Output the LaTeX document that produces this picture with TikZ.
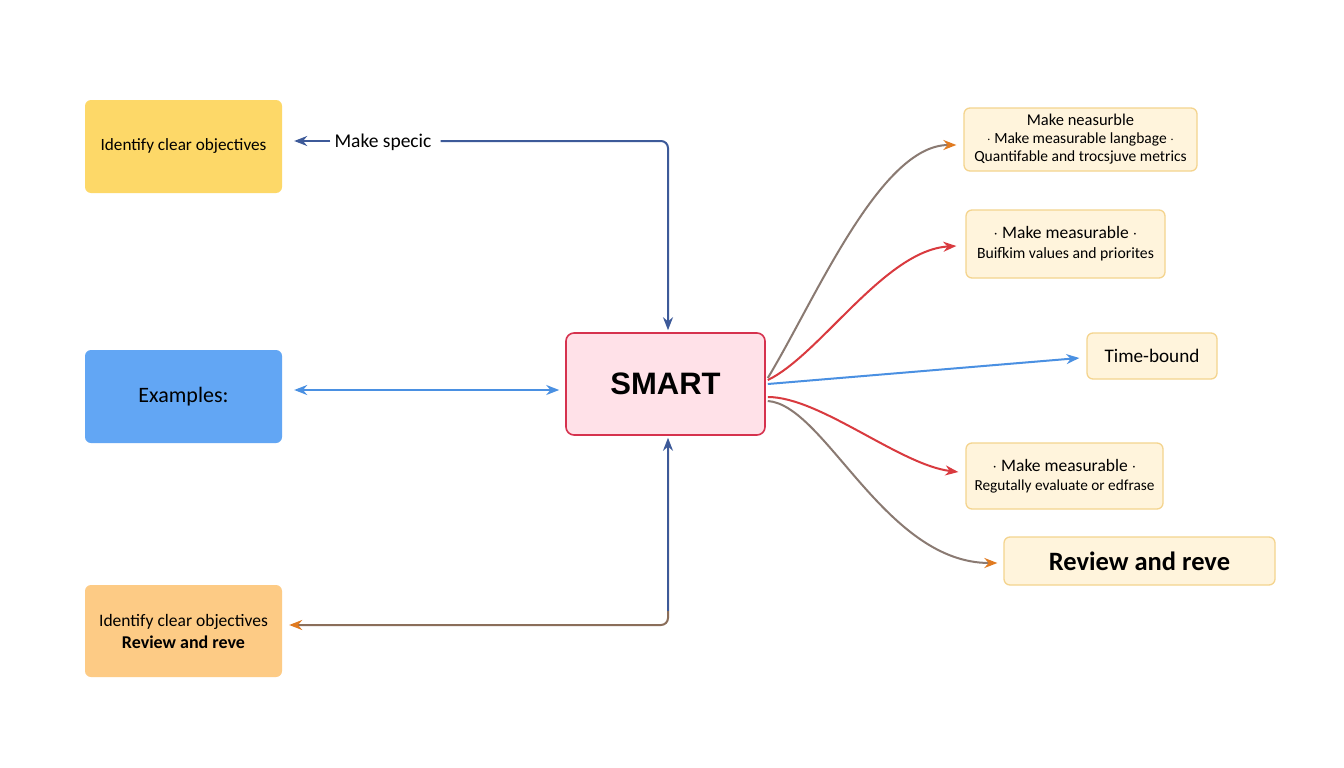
\documentclass[tikz,border=0pt]{standalone}
\usepackage{fontspec}
\setmainfont{Carlito}
\newfontfamily\smartfont{Liberation Sans}
\usetikzlibrary{arrows.meta,calc}
\definecolor{yelfill}{HTML}{FDD868}
\definecolor{bluefill}{HTML}{62A6F4}
\definecolor{orfill}{HTML}{FDCB85}
\definecolor{smartfill}{HTML}{FFE1E8}
\definecolor{smartdraw}{HTML}{D6324E}
\definecolor{rfill}{HTML}{FFF4DC}
\definecolor{rdraw}{HTML}{F4D48E}
\definecolor{dblue}{HTML}{3D5A99}
\definecolor{lblue}{HTML}{4A90E2}
\definecolor{cred}{HTML}{D93A3F}
\definecolor{cgray}{HTML}{8A7A72}
\definecolor{cbrown}{HTML}{8A6E5A}
\definecolor{torange}{HTML}{E07A20}
\tikzset{
  leftbox/.style={rectangle, rounded corners=6pt, draw=none, align=center, text=black, inner sep=0pt},
  rbox/.style={rectangle, rounded corners=6pt, draw=rdraw, line width=1.3pt, fill=rfill, align=center, text=black, inner sep=0pt},
  conn/.style={line width=2pt},
  tip/.style={-{Stealth[length=13pt,width=10pt]}},
}
\begin{document}
\begin{tikzpicture}[x=1pt,y=-1pt]
\useasboundingbox[fill=white] (0,0) rectangle (1344,768);
% left boxes
\node[leftbox, fill=yelfill, minimum width=197pt, minimum height=93pt, font=\fontsize{17.2}{20}\selectfont] (A1) at (183.5,146.5) {Identify clear objectives};
\node[leftbox, fill=bluefill, minimum width=197pt, minimum height=93pt, font=\fontsize{22}{26}\selectfont] (A2) at (183.5,396.5) {Examples:};
\node[leftbox, fill=orfill, minimum width=197pt, minimum height=92pt, font=\fontsize{17.5}{22}\selectfont] (A3) at (183.5,631) {Identify clear objectives\\{\bfseries\fontsize{18}{22}\selectfont Review and reve}};
% center
\node[rectangle, rounded corners=8pt, draw=smartdraw, line width=1.6pt, fill=smartfill, minimum width=199pt, minimum height=102pt, font=\smartfont\bfseries\fontsize{31}{34}\selectfont] (S) at (665.5,384) {SMART};
% right boxes
\node[rbox, minimum width=233pt, minimum height=63pt, font=\fontsize{15.5}{18}\selectfont] (R1) at (1080.5,139.5) {{\fontsize{16.5}{18}\selectfont Make neasurble}\\$\cdot$ Make measurable langbage $\cdot$\\Quantifable and trocsjuve metrics};
\node[rbox, minimum width=199pt, minimum height=68pt, font=\fontsize{15.7}{20}\selectfont] (R2) at (1065.5,244) {{\fontsize{17.5}{20}\selectfont $\cdot$ Make measurable $\cdot$}\\Buifkim values and priorites};
\node[rbox, minimum width=130pt, minimum height=46pt, font=\fontsize{19.2}{22}\selectfont] (R3) at (1152,356) {Time-bound};
\node[rbox, minimum width=197pt, minimum height=66pt, font=\fontsize{15.3}{19.5}\selectfont] (R4) at (1064.5,476) {{\fontsize{17.5}{19.5}\selectfont $\cdot$ Make measurable $\cdot$}\\Regutally evaluate or edfrase};
\node[rbox, minimum width=271pt, minimum height=48pt, font=\bfseries\fontsize{26.5}{30}\selectfont] (R5) at (1139.5,561) {Review and reve};
% label
\node[inner sep=4pt, font=\fontsize{19.5}{22}\selectfont] (spec) at (383,142) {Make specic};
% connectors left
\draw[conn, dblue, tip] ([yshift=1pt]spec.west) -- ([xshift=12pt,yshift=1pt]spec.west -| A1.east);
\draw[conn, dblue, tip, rounded corners=7pt] ([xshift=5pt,yshift=1pt]spec.east) -| ($(S.north)+(2.5,-2)$);
\draw[conn, lblue, {Stealth[length=13pt,width=10pt]}-{Stealth[length=13pt,width=10pt]}] ($(A2.east)+(12,-6.5)$) -- ($(S.west)+(-6,6)$);
\draw[conn, cbrown, -{Stealth[length=13pt,width=10pt,color=torange]}, rounded corners=7pt] ($(S.south)+(2.5,12)$) |- ($(A3.east)+(7,-6)$);
\draw[conn, dblue, {Stealth[length=13pt,width=10pt]}-] ($(S.south)+(2.5,2)$) -- ($(S.south)+(2.5,175)$);
% connectors right
\draw[conn, cgray, -{Stealth[length=13pt,width=10pt,color=torange]}] ($(S.east)+(2,-6)$) .. controls (815,300) and (880,145) .. ($(R1.west)+(-7,5.5)$);
\draw[conn, cred, tip] ($(S.east)+(2,-4)$) .. controls (820,355) and (885,250) .. ($(R2.west)+(-9,2)$);
\draw[conn, lblue, tip] ($(S.east)+(2,0)$) -- ($(R3.west)+(-7,2)$);
\draw[conn, cred, tip] ($(S.east)+(2,13)$) .. controls (820,397) and (900,465) .. ($(R4.west)+(-7,-4)$);
\draw[conn, cgray, -{Stealth[length=13pt,width=10pt,color=torange]}] ($(S.east)+(2,17)$) .. controls (825,405) and (885,563) .. ($(R5.west)+(-6,2)$);
\end{tikzpicture}
\end{document}
